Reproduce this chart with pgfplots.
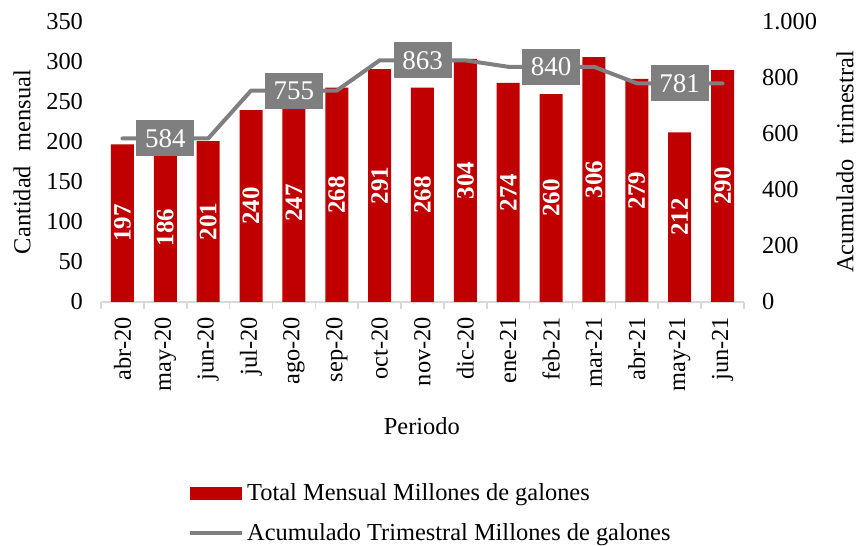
\documentclass[border=0pt]{standalone}
\usepackage{pgfplots}
\pgfplotsset{compat=1.18}
\usepackage{fontspec}
\setmainfont{Liberation Serif}
\definecolor{barred}{HTML}{C00000}
\definecolor{linegray}{HTML}{7F7F7F}
\definecolor{axisgray}{HTML}{D9D9D9}
\begin{document}
\begin{tikzpicture}[font=\fontsize{12.2}{14}\selectfont]
\path[use as bounding box] (0,0) rectangle (429pt,273pt);
\begin{axis}[
  at={(50.5pt,122pt)}, anchor=south west,
  scale only axis, width=321.5pt, height=140pt,
  xmin=-0.5, xmax=14.5, ymin=0, ymax=350,
  axis y line*=left, axis x line*=bottom,
  y axis line style={draw=none},
  x axis line style={axisgray, line width=0.8pt},
  xtick={0,...,14},
  xticklabels={abr-20,may-20,jun-20,jul-20,ago-20,sep-20,oct-20,nov-20,dic-20,ene-21,feb-21,mar-21,abr-21,may-21,jun-21},
  xticklabel style={rotate=90, anchor=east},
  xticklabel shift=4pt,
  minor xtick={-0.5,0.5,...,14.5},
  major tick length=0pt, minor tick length=3.5pt,
  tick align=outside,
  minor tick style={axisgray, line width=0.8pt},
  ytick={0,50,...,350},
  yticklabel shift=5.5pt,
  /pgf/number format/assume math mode=true,
  ylabel={Cantidad\hspace{0.6em}mensual},
  ylabel style={at={(axis description cs:-0.123,0.5)}, anchor=center},
  xlabel={Periodo},
  xlabel style={at={(axis description cs:0.499,-0.443)}, anchor=center},
  legend style={at={(axis description cs:0.135,-0.635)}, anchor=north west, draw=none, fill=none, inner sep=0pt, row sep=7pt, nodes={inner sep=1.5pt}},
  legend cell align=left,
]
\addplot[ybar, bar width=11.5pt, fill=barred, draw=none,
  legend image code/.code={\fill[barred] (0pt,-3.25pt) rectangle (26pt,3.25pt);},
  visualization depends on=y \as \rawy,
  nodes near coords,
  every node near coord/.append style={shift={(axis direction cs:0,-\rawy/2)}, anchor=center, rotate=90, text=white, font=\fontsize{12.5}{14}\selectfont\bfseries},
] coordinates {(0,197)(1,186)(2,201)(3,240)(4,247)(5,268)(6,291)(7,268)(8,304)(9,274)(10,260)(11,306)(12,279)(13,212)(14,290)};
\addlegendentry{Total Mensual Millones de galones}
\addlegendimage{legend image code/.code={\draw[linegray, line width=2pt] (0pt,0pt) -- (26pt,0pt);}}
\addlegendentry{Acumulado Trimestral Millones de galones}
\end{axis}
\begin{axis}[
  at={(50.5pt,122pt)}, anchor=south west,
  scale only axis, width=321.5pt, height=140pt,
  xmin=-0.5, xmax=14.5, ymin=0, ymax=1000,
  axis y line*=right, axis x line=none,
  y axis line style={draw=none},
  major tick length=0pt,
  ytick={0,200,...,1000},
  yticklabel shift=5.5pt,
  /pgf/number format/.cd, 1000 sep={.}, assume math mode=true, /pgfplots/.cd,
  ylabel={Acumulado\hspace{0.6em}trimestral},
  ylabel style={at={(axis description cs:1.157,0.5)}, anchor=center},
]
\addplot[linegray, line width=2pt, line cap=round, line join=round, mark=none] coordinates {(0,584)(1,584)(2,584)(3,755)(4,755)(5,755)(6,863)(7,863)(8,863)(9,840)(10,840)(11,840)(12,781)(13,781)(14,781)};
\addplot[draw=none, mark=none, nodes near coords,
  every node near coord/.append style={anchor=center, fill=linegray, text=white, minimum width=29pt, minimum height=18pt, inner sep=0pt, font=\fontsize{13.5}{15}\selectfont},
] coordinates {(1,584)(4,755)(7,863)(10,840)(13,781)};
\end{axis}
\end{tikzpicture}
\end{document}
